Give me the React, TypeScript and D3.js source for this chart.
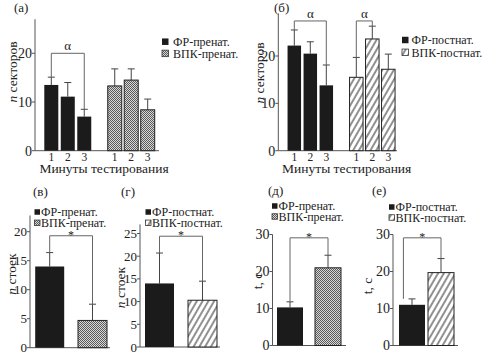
import React from 'react';
import * as d3 from 'd3';

// ---------- data ----------
const minutes = ['1', '2', '3'];
const frPrenat = [13.5, 11.1, 7.0];
const frPrenatErr = [1.6, 2.9, 1.5];
const vpkPrenat = [13.3, 14.5, 8.4];
const vpkPrenatErr = [3.5, 2.3, 2.2];
const frPostnat = [22.2, 20.5, 13.8];
const frPostnatErr = [3.3, 2.5, 4.3];
const vpkPostnat = [15.5, 23.6, 17.2];
const vpkPostnatErr = [4.2, 2.7, 3.2];

const standsPrenat = [14.0, 4.7];
const standsPrenatErr = [2.4, 2.8];
const standsPostnat = [14.0, 10.3];
const standsPostnatErr = [6.7, 4.2];
const timePrenat = [10.3, 21.0];
const timePrenatErr = [1.5, 3.4];
const timePostnat = [11.0, 19.7];
const timePostnatErr = [1.6, 3.8];

const ticksSectors = [0, 10, 20];
const ticksStandsPre = [0, 5, 10, 15, 20];
const ticksStandsPost = [0, 5, 10, 15, 20, 25];
const ticksTime = [0, 10, 20, 30];

const legendPrenat = ['ФР-пренат.', 'ВПК-пренат.'];
const legendPostnat = ['ФР-постнат.', 'ВПК-постнат.'];
const xTitle = 'Минуты тестирования';

// ---------- styles ----------
const FONT = "'Liberation Serif', 'Times New Roman', Tinos, 'DejaVu Serif', serif";
const BLACK = '#1b1b1b';
const AXIS = '#555';
const TEXT = '#222';
const CHECK = 'url(#check)';
const HATCH = 'url(#hatch)';

type Bar = { pos: number; value: number; err: number; fill: string; outline: boolean };
type Bracket = { from: number; to: number; top: number; leftEnd: number; rightEnd: number; label: string; fromShift?: number };

type PanelCfg = {
  axisX: number;
  y0: number;
  yTopPx: number;
  yMax: number;
  axisTop: number;
  ticks: number[];
  x: d3.ScaleLinear<number, number>;
  barWidth: number;
  bars: Bar[];
  baseEnd: number;
  brackets: Bracket[];
  xLabels?: { pos: number; text: string }[];
  xLabelY?: number;
  title?: { x: number; y: number };
  yLabel: { x: number; y: number; italic: string; rest: string };
  panel: { x: number; y: number; text: string };
  legend: { x: number; y: number; dy: number; fills: string[]; texts: string[]; size: number; gap: number };
  tickFont: number;
};

const T = (size: number, extra: any = {}) => ({ fontFamily: FONT, fontSize: size, fill: TEXT, ...extra });

function Panel({ c }: { c: PanelCfg }) {
  const y = d3.scaleLinear().domain([0, c.yMax]).range([c.y0, c.yTopPx]);
  const cap = 3.5;
  return (
    <g>
      <line x1={c.axisX} x2={c.axisX} y1={c.y0} y2={y(c.axisTop)} stroke={AXIS} strokeWidth={1} />
      <line x1={c.axisX} x2={c.baseEnd} y1={c.y0} y2={c.y0} stroke={AXIS} strokeWidth={1} />
      {c.ticks.map((t) => (
        <g key={t}>
          <line x1={c.axisX - 3} x2={c.axisX} y1={y(t)} y2={y(t)} stroke={AXIS} strokeWidth={1} />
          <text x={c.axisX - 3} y={y(t)} dy="0.35em" textAnchor="end" style={T(c.tickFont)}>
            {t}
          </text>
        </g>
      ))}
      {c.bars.map((b, i) => {
        const cx = c.x(b.pos);
        return (
          <g key={i}>
            <line x1={cx} x2={cx} y1={y(b.value)} y2={y(b.value + b.err)} stroke="#444" strokeWidth={1} />
            <line x1={cx - cap} x2={cx + cap} y1={y(b.value + b.err)} y2={y(b.value + b.err)} stroke="#444" strokeWidth={1} />
            <rect
              x={cx - c.barWidth / 2}
              y={y(b.value)}
              width={c.barWidth}
              height={c.y0 - y(b.value)}
              fill={b.fill}
              stroke={b.outline ? '#222' : 'none'}
              strokeWidth={b.outline ? 1 : 0}
            />
          </g>
        );
      })}
      {c.brackets.map((br, i) => {
        const x1 = c.x(br.from) + (br.fromShift || 0) * c.barWidth;
        const x2 = c.x(br.to);
        const yt = y(br.top);
        const star = br.label === '*';
        return (
          <g key={i}>
            <path d={`M${x1},${y(br.leftEnd)}V${yt}H${x2}V${y(br.rightEnd)}`} fill="none" stroke="#666" strokeWidth={1} />
            <text x={(x1 + x2) / 2} y={star ? yt + 3 : yt - 3} textAnchor="middle" style={T(star ? 12 : 13)}>
              {br.label}
            </text>
          </g>
        );
      })}
      {c.xLabels &&
        c.xLabels.map((l, i) => (
          <text key={i} x={c.x(l.pos)} y={c.xLabelY} dy="0.35em" textAnchor="middle" style={T(11.5)}>
            {l.text}
          </text>
        ))}
      {c.title && (
        <text x={c.title.x} y={c.title.y} dy="0.35em" textAnchor="middle" style={T(13.5)}>
          {xTitle}
        </text>
      )}
      <text transform={`translate(${c.yLabel.x},${c.yLabel.y}) rotate(-90)`} textAnchor="middle" dy="0.35em" style={T(13.5)}>
        <tspan fontStyle="italic">{c.yLabel.italic}</tspan>
        {c.yLabel.rest}
      </text>
      <text x={c.panel.x} y={c.panel.y} dy="0.35em" style={T(13)}>
        {c.panel.text}
      </text>
      {c.legend.texts.map((t, i) => {
        const yy = c.legend.y + i * c.legend.dy;
        const s = c.legend.size;
        return (
          <g key={i}>
            <rect
              x={c.legend.x}
              y={yy - s / 2}
              width={s}
              height={s}
              fill={c.legend.fills[i]}
              stroke={c.legend.fills[i] === BLACK ? 'none' : '#333'}
              strokeWidth={0.8}
            />
            <text x={c.legend.x + s + c.legend.gap} y={yy} dy="0.35em" style={T(12)}>
              {t}
            </text>
          </g>
        );
      })}
    </g>
  );
}

export default function App() {
  const g2 = 3.85;
  const xA = d3.scaleLinear().domain([0, 2 + g2]).range([51.3, 147.7]);
  const xB = d3.scaleLinear().domain([0, 2 + 3.875]).range([294.3, 388.3]);
  const xV = d3.scaleLinear().domain([0, 1]).range([49.7, 92.5]);
  const xG = d3.scaleLinear().domain([0, 1]).range([159.5, 202.5]);
  const xD = d3.scaleLinear().domain([0, 1]).range([290, 328]);
  const xE = d3.scaleLinear().domain([0, 1]).range([412, 441]);

  const panels: PanelCfg[] = [
    {
      axisX: 35, y0: 150.7, yTopPx: 53.3, yMax: 20, axisTop: 27, ticks: ticksSectors, x: xA, barWidth: 14,
      bars: [
        ...frPrenat.map((v, i) => ({ pos: i, value: v, err: frPrenatErr[i], fill: BLACK, outline: false })),
        ...vpkPrenat.map((v, i) => ({ pos: i + g2, value: v, err: vpkPrenatErr[i], fill: CHECK, outline: true })),
      ],
      baseEnd: 159,
      brackets: [{ from: 0, to: 2, top: 20, leftEnd: frPrenat[0] + frPrenatErr[0], rightEnd: frPrenat[2] + frPrenatErr[2], label: 'α' }],
      xLabels: [...minutes.map((m, i) => ({ pos: i, text: m })), ...minutes.map((m, i) => ({ pos: i + g2, text: m }))],
      xLabelY: 156.5,
      title: { x: 104, y: 168 },
      yLabel: { x: 12.5, y: 72, italic: 'n', rest: ' секторов' },
      panel: { x: 14, y: 7.5, text: '(а)' },
      legend: { x: 162, y: 41.7, dy: 11.7, fills: [BLACK, CHECK], texts: legendPrenat, size: 6.5, gap: 4.5 },
      tickFont: 14,
    },
    {
      axisX: 278.3, y0: 150.7, yTopPx: 56, yMax: 20, axisTop: 29, ticks: ticksSectors, x: xB, barWidth: 13.5,
      bars: [
        ...frPostnat.map((v, i) => ({ pos: i, value: v, err: frPostnatErr[i], fill: BLACK, outline: false })),
        ...vpkPostnat.map((v, i) => ({ pos: i + 3.875, value: v, err: vpkPostnatErr[i], fill: HATCH, outline: true })),
      ],
      baseEnd: 397,
      brackets: [
        { from: 0, to: 2, top: 27.4, leftEnd: frPostnat[0] + frPostnatErr[0], rightEnd: frPostnat[2] + frPostnatErr[2], label: 'α' },
        { from: 3.875, to: 4.875, top: 27.4, leftEnd: vpkPostnat[0] + vpkPostnatErr[0], rightEnd: vpkPostnat[1] + vpkPostnatErr[1], label: 'α' },
      ],
      xLabels: [...minutes.map((m, i) => ({ pos: i, text: m })), ...minutes.map((m, i) => ({ pos: i + 3.875, text: m }))],
      xLabelY: 156.5,
      title: { x: 346.7, y: 168 },
      yLabel: { x: 259, y: 73, italic: 'n', rest: ' секторов' },
      panel: { x: 274, y: 7, text: '(б)' },
      legend: { x: 402, y: 40, dy: 12.3, fills: [BLACK, HATCH], texts: legendPostnat, size: 6.5, gap: 3 },
      tickFont: 14,
    },
    {
      axisX: 30, y0: 347.7, yTopPx: 231.7, yMax: 20, axisTop: 22.8, ticks: ticksStandsPre, x: xV, barWidth: 29,
      bars: standsPrenat.map((v, i) => ({ pos: i, value: v, err: standsPrenatErr[i], fill: i === 0 ? BLACK : CHECK, outline: i === 1 })),
      baseEnd: 110,
      brackets: [{ from: 0, to: 1, top: 19.3, leftEnd: standsPrenat[0] + standsPrenatErr[0], rightEnd: standsPrenat[1] + standsPrenatErr[1], label: '*' }],
      yLabel: { x: 11, y: 274, italic: 'n', rest: ' стоек' },
      panel: { x: 33, y: 191.5, text: '(в)' },
      legend: { x: 34.5, y: 212, dy: 10.8, fills: [BLACK, CHECK], texts: legendPrenat, size: 5.5, gap: 1 },
      tickFont: 13,
    },
    {
      axisX: 140, y0: 347, yTopPx: 233.5, yMax: 25, axisTop: 27, ticks: ticksStandsPost, x: xG, barWidth: 29,
      bars: standsPostnat.map((v, i) => ({ pos: i, value: v, err: standsPostnatErr[i], fill: i === 0 ? BLACK : HATCH, outline: i === 1 })),
      baseEnd: 220,
      brackets: [{ from: 0, to: 1, top: 24.4, leftEnd: standsPostnat[0] + standsPostnatErr[0], rightEnd: standsPostnat[1] + standsPostnatErr[1], label: '*' }],
      yLabel: { x: 120.5, y: 287.5, italic: 'n', rest: ' стоек' },
      panel: { x: 121, y: 191.5, text: '(г)' },
      legend: { x: 145.5, y: 212, dy: 10.8, fills: [BLACK, HATCH], texts: legendPostnat, size: 5.5, gap: 1 },
      tickFont: 13,
    },
    {
      axisX: 272.5, y0: 345.5, yTopPx: 234.5, yMax: 30, axisTop: 30, ticks: ticksTime, x: xD, barWidth: 26,
      bars: timePrenat.map((v, i) => ({ pos: i, value: v, err: timePrenatErr[i], fill: i === 0 ? BLACK : CHECK, outline: i === 1 })),
      baseEnd: 346,
      brackets: [{ from: 0, to: 1, top: 29.1, leftEnd: timePrenat[0] + timePrenatErr[0], rightEnd: timePrenat[1] + timePrenatErr[1], label: '*' }],
      yLabel: { x: 257, y: 281, italic: '', rest: 't, с' },
      panel: { x: 268, y: 190, text: '(д)' },
      legend: { x: 272, y: 206, dy: 10.5, fills: [BLACK, CHECK], texts: legendPrenat, size: 5.5, gap: 1 },
      tickFont: 14,
    },
    {
      axisX: 393, y0: 345.5, yTopPx: 234.5, yMax: 30, axisTop: 30, ticks: ticksTime, x: xE, barWidth: 26,
      bars: timePostnat.map((v, i) => ({ pos: i, value: v, err: timePostnatErr[i], fill: i === 0 ? BLACK : HATCH, outline: i === 1 })),
      baseEnd: 458,
      brackets: [{ from: 0, to: 1, top: 29.1, fromShift: -0.33, leftEnd: timePostnat[0] + timePostnatErr[0], rightEnd: timePostnat[1] + timePostnatErr[1], label: '*' }],
      yLabel: { x: 367, y: 286, italic: '', rest: 't, с' },
      panel: { x: 372, y: 190, text: '(е)' },
      legend: { x: 389, y: 207, dy: 10.5, fills: [BLACK, HATCH], texts: legendPostnat, size: 5.5, gap: 1 },
      tickFont: 14,
    },
  ];

  return (
    <svg width={493} height={357} viewBox="0 0 493 357" style={{ position: 'absolute', left: 0, top: 0, background: '#fff' }}>
      <defs>
        <pattern id="check" width={2} height={2} patternUnits="userSpaceOnUse">
          <rect width={2} height={2} fill="#d8d8d8" />
          <rect width={1} height={1} fill="#5a5a5a" />
          <rect x={1} y={1} width={1} height={1} fill="#5a5a5a" />
        </pattern>
        <pattern id="hatch" width={5} height={5} patternUnits="userSpaceOnUse" patternTransform="rotate(30)">
          <rect width={5} height={5} fill="#fff" />
          <line x1={1} x2={1} y1={0} y2={5} stroke="#222" strokeWidth={1} />
        </pattern>
      </defs>
      <rect width={493} height={357} fill="#fff" />
      {panels.map((c, i) => (
        <Panel key={i} c={c} />
      ))}
    </svg>
  );
}
